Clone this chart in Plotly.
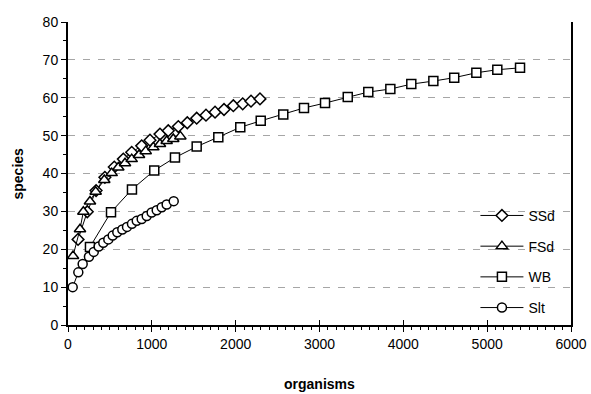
import plotly.graph_objects as go

# SSd (diamonds)
ssd_x = [120, 230, 335, 440, 552, 660, 760, 879, 978, 1097, 1196, 1316, 1423, 1535, 1646, 1754, 1861, 1972, 2084, 2183, 2290]
ssd_y = [22.6, 29.9, 35.5, 39.0, 41.7, 43.8, 45.6, 47.3, 48.8, 50.4, 51.3, 52.4, 53.4, 54.6, 55.4, 56.2, 56.9, 57.9, 58.4, 59.1, 59.7]

# FSd (triangles)
fsd_x = [60, 143, 183, 262, 330, 433, 521, 600, 680, 760, 847, 927, 1018, 1097, 1177, 1256, 1340]
fsd_y = [18.2, 25.3, 29.9, 32.6, 35.2, 38.3, 40.1, 41.6, 42.7, 43.8, 44.9, 45.9, 46.9, 47.8, 48.6, 49.1, 49.8]

# WB (squares)
wb_x = [262, 513, 763, 1029, 1276, 1535, 1793, 2055, 2299, 2568, 2815, 3066, 3337, 3582, 3845, 4095, 4358, 4607, 4871, 5121, 5392]
wb_y = [20.6, 29.8, 35.8, 40.8, 44.2, 47.1, 49.6, 52.2, 53.9, 55.6, 57.3, 58.6, 60.2, 61.5, 62.3, 63.6, 64.4, 65.3, 66.6, 67.4, 67.9]

# Slt (circles)
slt_x = [56, 123, 175, 250, 307, 366, 421, 481, 533, 588, 648, 704, 763, 820, 879, 939, 998, 1058, 1118, 1177, 1261]
slt_y = [10.0, 13.9, 16.1, 18.0, 19.3, 20.7, 21.7, 22.6, 23.6, 24.5, 25.2, 25.9, 26.7, 27.5, 28.0, 28.8, 29.7, 30.3, 31.1, 31.8, 32.7]

x_ticks = [0, 1000, 2000, 3000, 4000, 5000, 6000]
y_ticks = [0, 10, 20, 30, 40, 50, 60, 70, 80]

FONT = "Liberation Sans, Arial, sans-serif"

series = [
    ("SSd", ssd_x, ssd_y, "diamond", 9),
    ("FSd", fsd_x, fsd_y, "triangle-up", 10),
    ("WB", wb_x, wb_y, "square", 9),
    ("Slt", slt_x, slt_y, "circle", 9),
]

fig = go.Figure()
for name, xs, ys, sym, sz in series:
    fig.add_trace(go.Scatter(
        x=xs, y=ys, name=name, mode="lines+markers", legendgroup=name,
        line=dict(color="black", width=1),
        marker=dict(symbol=sym, size=sz, color="white",
                    line=dict(color="black", width=1.5)),
    ))

# helper trace for crossing major x ticks
fig.add_trace(go.Scatter(x=[0], y=[0], xaxis="x2", yaxis="y", mode="none",
                         showlegend=False, hoverinfo="skip"))

fig.update_layout(
    width=591, height=394,
    margin=dict(l=68, r=20, t=22, b=69),
    paper_bgcolor="white", plot_bgcolor="white",
    font=dict(family=FONT, size=14, color="black"),
    showlegend=True,
    legend=dict(x=0.81, y=0.413, xanchor="left", yanchor="top",
                bgcolor="rgba(0,0,0,0)", borderwidth=0,
                itemwidth=43,
                font=dict(family=FONT, size=14, color="black"),
                traceorder="grouped", tracegroupgap=9.5),
    xaxis=dict(
        range=[0, 6000], tickvals=x_ticks, ticktext=[str(v) for v in x_ticks],
        showgrid=False, zeroline=False, automargin=False,
        showline=True, linecolor="black", linewidth=2,
        ticks="outside", ticklen=5, tickwidth=1, tickcolor="black",
        minor=dict(dtick=100, ticks="outside", ticklen=3, tickcolor="black", showgrid=False),
        tickfont=dict(family=FONT, size=14),
    ),
    xaxis2=dict(
        range=[0, 6000], overlaying="x", anchor="y", side="bottom", automargin=False,
        tickvals=x_ticks, showticklabels=False, showgrid=False, zeroline=False,
        ticks="inside", ticklen=5, tickwidth=1, tickcolor="black", showline=False,
    ),
    yaxis=dict(
        range=[0, 80], tickvals=y_ticks, ticktext=[str(v) for v in y_ticks],
        showgrid=True, gridcolor="#a6a6a6", griddash="7px,8px", gridwidth=1,
        zeroline=False, automargin=False,
        showline=True, linecolor="black", linewidth=2, mirror=True,
        ticks="outside", ticklen=5, tickwidth=1, tickcolor="black",
        minor=dict(dtick=5, ticks="outside", ticklen=3, tickcolor="black", showgrid=False),
        tickfont=dict(family=FONT, size=14),
    ),
    annotations=[
        dict(text="<b>species</b>", xref="paper", yref="paper",
             x=-68/503 + 17/503, y=0.5, xanchor="center", yanchor="middle",
             textangle=-90, showarrow=False, font=dict(family=FONT, size=14)),
        dict(text="<b>organisms</b>", xref="paper", yref="paper",
             x=0.5, y=-(384 - 325)/303, xanchor="center", yanchor="middle",
             showarrow=False, font=dict(family=FONT, size=14)),
    ],
)

fig.write_html("out.html")
